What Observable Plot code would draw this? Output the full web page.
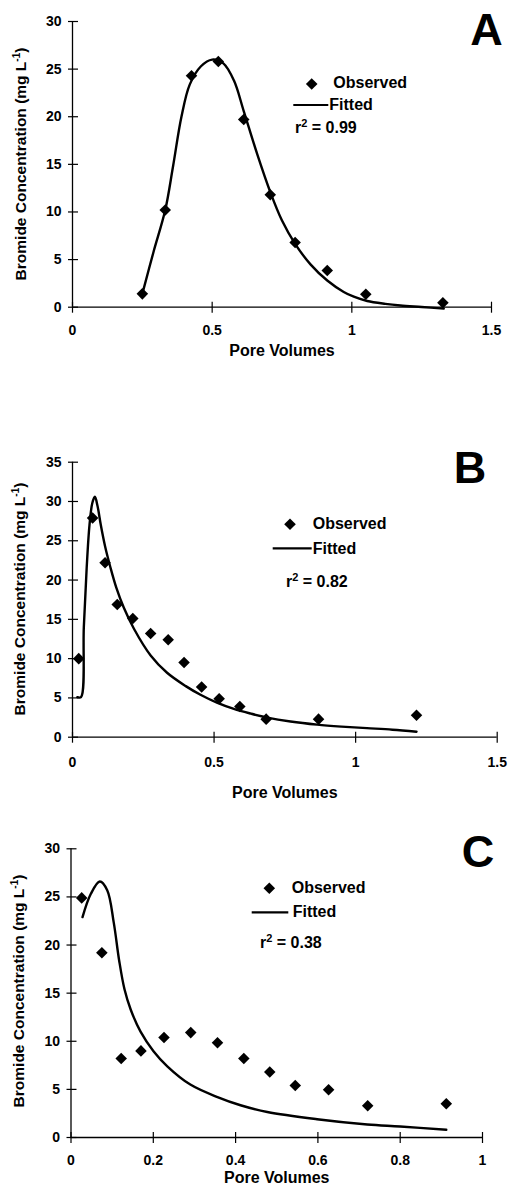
<!DOCTYPE html>
<html><head><meta charset="utf-8">
<script src="https://cdn.jsdelivr.net/npm/d3@7"></script>
<script src="https://cdn.jsdelivr.net/npm/@observablehq/plot@0.6"></script>
<style>
body{margin:0;background:#fff;}
#root{position:relative;width:509px;height:1185px;overflow:hidden;font-family:"Liberation Sans",Arial,sans-serif;font-weight:bold;color:#000;}
#root svg text{font-weight:bold !important;font-family:"Liberation Sans",Arial,sans-serif !important;}
.panel{position:absolute;left:0;}
#overlay{position:absolute;left:0;top:0;pointer-events:none;}
</style></head><body><div id="root"></div>
<script>
// ---------- Panel A ----------
const obsA_x = [0.25, 0.332, 0.426, 0.522, 0.613, 0.708, 0.797, 0.912, 1.05, 1.326];
const obsA_y = [1.4, 10.2, 24.3, 25.8, 19.7, 11.8, 6.8, 3.85, 1.37, 0.46];
const fitA_x = [0.25, 0.29, 0.332, 0.36, 0.39, 0.42, 0.46, 0.50, 0.54, 0.578, 0.613, 0.661, 0.708, 0.75, 0.797, 0.852, 0.912, 0.971, 1.007, 1.055, 1.12, 1.174, 1.25, 1.329];
const fitA_y = [1.4, 5.8, 10.2, 14.8, 20.0, 23.4, 25.3, 26.0, 25.6, 23.8, 20.6, 16.1, 12.1, 9.1, 6.65, 4.5, 2.8, 1.6, 1.1, 0.65, 0.35, 0.18, 0.02, -0.15];
const xTicksA = [0, 0.5, 1, 1.5];
const yTicksA = [0, 5, 10, 15, 20, 25, 30];
// ---------- Panel B ----------
const obsB_x = [0.022, 0.071, 0.115, 0.158, 0.213, 0.276, 0.338, 0.394, 0.456, 0.518, 0.591, 0.684, 0.869, 1.215];
const obsB_y = [10, 27.9, 22.2, 16.9, 15.1, 13.2, 12.4, 9.5, 6.4, 4.9, 3.9, 2.3, 2.3, 2.8];
const fitB_x = [0.017, 0.03, 0.04, 0.05, 0.06, 0.07, 0.079, 0.088, 0.10, 0.115, 0.134, 0.155, 0.181, 0.217, 0.276, 0.334, 0.40, 0.452, 0.51, 0.57, 0.63, 0.688, 0.77, 0.864, 0.95, 1.04, 1.13, 1.215];
const fitB_y = [5.1, 5.1, 14, 21.5, 27, 29.8, 30.6, 29.5, 27, 24.3, 21.6, 19, 16.5, 13.8, 10.4, 8.2, 6.5, 5.4, 4.4, 3.6, 3.0, 2.5, 2.0, 1.6, 1.35, 1.15, 0.95, 0.7];
const xTicksB = [0, 0.5, 1, 1.5];
const yTicksB = [0, 5, 10, 15, 20, 25, 30, 35];
// ---------- Panel C ----------
const obsC_x = [0.026, 0.075, 0.122, 0.17, 0.226, 0.291, 0.356, 0.42, 0.483, 0.545, 0.626, 0.721, 0.912];
const obsC_y = [24.9, 19.2, 8.2, 9.0, 10.4, 10.9, 9.85, 8.2, 6.8, 5.4, 4.96, 3.3, 3.5];
const fitC_x = [0.028, 0.048, 0.07, 0.088, 0.104, 0.117, 0.13, 0.145, 0.169, 0.2, 0.234, 0.29, 0.356, 0.412, 0.477, 0.598, 0.72, 0.8, 0.912];
const fitC_y = [22.9, 25.3, 26.6, 25.7, 22.3, 18.4, 15.4, 13.3, 11.0, 9.0, 7.4, 5.5, 4.2, 3.35, 2.65, 1.9, 1.35, 1.14, 0.8];
const xTicksC = [0, 0.2, 0.4, 0.6, 0.8, 1];
const yTicksC = [0, 5, 10, 15, 20, 25, 30];

const letters = ["A", "B", "C"];
const r2Values = ["0.99", "0.82", "0.38"];
const xLabel = "Pore Volumes";
const yLabel = "Bromide Concentration (mg L";
const legendObserved = "Observed";
const legendFitted = "Fitted";

const FONT = '"Liberation Sans", Arial, sans-serif';

const panels = [
  {obsX: obsA_x, obsY: obsA_y, fitX: fitA_x, fitY: fitA_y, xTicks: xTicksA, yTicks: yTicksA,
   xDomain: [0, 1.5], yDomain: [0, 30], curve: "catmull-rom",
   top: 0, height: 400, mt: 21, mb: 93.3, ml: 72, mr: 18, xPad: 17.5, xLabDy: 43.2,
   letter: {x: 486.5, y: 45}, yLab: {x: 21, y: 164},
   leg: {dx: 311.7, dy: 84, ox: 333.3, oy: 88.3, lx1: 293.3, lx2: 328.3, ly: 105, fx: 329.3, fy: 110, rx: 295, ry: 132.7}},
  {obsX: obsB_x, obsY: obsB_y, fitX: fitB_x, fitY: fitB_y, xTicks: xTicksB, yTicks: yTicksB,
   xDomain: [0, 1.5], yDomain: [0, 35], curve: "catmull-rom",
   top: 400, height: 400, mt: 61.7, mb: 63.3, ml: 72, mr: 12.3, xPad: 19.5, xLabDy: 55.2,
   letter: {x: 470, y: 483.3}, yLab: {x: 20, y: 599},
   leg: {dx: 290, dy: 524.3, ox: 312.7, oy: 529.3, lx1: 272.7, lx2: 311.7, ly: 548.3, fx: 312.7, fy: 554.3, rx: 286, ry: 587.3}},
  {obsX: obsC_x, obsY: obsC_y, fitX: fitC_x, fitY: fitC_y, xTicks: xTicksC, yTicks: yTicksC,
   xDomain: [0, 1], yDomain: [0, 30], curve: "catmull-rom",
   top: 800, height: 385, mt: 48.3, mb: 48, ml: 70.5, mr: 27, xPad: 17.3, xLabDy: 40.3,
   letter: {x: 478, y: 867}, yLab: {x: 19, y: 991},
   leg: {dx: 269.3, dy: 888.3, ox: 291.7, oy: 892.7, lx1: 251.7, lx2: 288.3, ly: 912.3, fx: 292.7, fy: 916.7, rx: 260, ry: 948.3}}
];

const root = document.getElementById("root");

panels.forEach((p) => {
  const obs = p.obsX.map((x, i) => ({x, y: p.obsY[i]}));
  const fit = p.fitX.map((x, i) => ({x, y: p.fitY[i]}));
  const chart = Plot.plot({
    width: 509, height: p.height,
    marginTop: p.mt, marginBottom: p.mb, marginLeft: p.ml, marginRight: p.mr,
    style: {fontFamily: FONT, fontWeight: "bold", fontSize: "14px", color: "#000", background: "transparent", overflow: "visible"},
    x: {domain: p.xDomain},
    y: {domain: p.yDomain},
    marks: [
      Plot.ruleX([0], {stroke: "#000", strokeWidth: 1.3}),
      Plot.ruleY([0], {stroke: "#000", strokeWidth: 1.3}),
      Plot.axisX(p.xTicks, {tickSize: 11, dy: -5, fill: "none", label: null, strokeWidth: 1.2}),
      Plot.axisX(p.xTicks, {tickSize: 0, tickPadding: p.xPad, tickFormat: (d) => String(d), label: null, fontSize: 14, fontWeight: "bold"}),
      Plot.axisY(p.yTicks, {tickSize: 10, dx: 6, fill: "none", label: null, strokeWidth: 1.2}),
      Plot.axisY(p.yTicks, {tickSize: 0, tickPadding: 11, tickFormat: (d) => String(d), label: null, fontSize: 14, fontWeight: "bold"}),
      Plot.line(fit, {x: "x", y: "y", curve: p.curve, stroke: "#000", strokeWidth: 2.4}),
      Plot.dot(obs, {x: "x", y: "y", symbol: "diamond2", r: 5.2, fill: "#000", stroke: "none"}),
      Plot.text([xLabel], {text: (d) => d, frameAnchor: "bottom", lineAnchor: "middle", dy: p.xLabDy, fontSize: 16, fontWeight: "bold"})
    ]
  });
  const wrap = document.createElement("div");
  wrap.className = "panel";
  wrap.style.top = p.top + "px";
  wrap.appendChild(chart);
  root.appendChild(wrap);
});

// overlay: legends, panel letters, rotated y labels
const ov = d3.select(root).append("svg").attr("id", "overlay")
  .attr("width", 509).attr("height", 1185)
  .style("font-family", FONT).style("font-weight", "bold");

panels.forEach((p, i) => {
  const L = p.leg;
  const s = 5.8;
  ov.append("path")
    .attr("d", `M${L.dx},${L.dy - s}L${L.dx + s},${L.dy}L${L.dx},${L.dy + s}L${L.dx - s},${L.dy}Z`)
    .attr("fill", "#000");
  ov.append("text").attr("x", L.ox).attr("y", L.oy).attr("font-size", 16).text(legendObserved);
  ov.append("line").attr("x1", L.lx1).attr("x2", L.lx2).attr("y1", L.ly).attr("y2", L.ly)
    .attr("stroke", "#000").attr("stroke-width", 2.2);
  ov.append("text").attr("x", L.fx).attr("y", L.fy).attr("font-size", 16).text(legendFitted);
  const r = ov.append("text").attr("x", L.rx).attr("y", L.ry).attr("font-size", 16);
  r.append("tspan").text("r");
  r.append("tspan").attr("dy", -6).attr("font-size", 11).text("2");
  r.append("tspan").attr("dy", 6).text(" = " + r2Values[i]);

  ov.append("text").attr("x", p.letter.x).attr("y", p.letter.y)
    .attr("text-anchor", "middle").attr("font-size", 45).text(letters[i]);

  const yl = ov.append("text")
    .attr("transform", `translate(${p.yLab.x},${p.yLab.y}) rotate(-90)`)
    .attr("text-anchor", "middle").attr("dy", "0.35em").attr("font-size", 15.5);
  yl.append("tspan").text(yLabel);
  yl.append("tspan").attr("dy", -6).attr("font-size", 10).text("-1");
  yl.append("tspan").attr("dy", 6).text(")");
});
</script>
</body></html>
